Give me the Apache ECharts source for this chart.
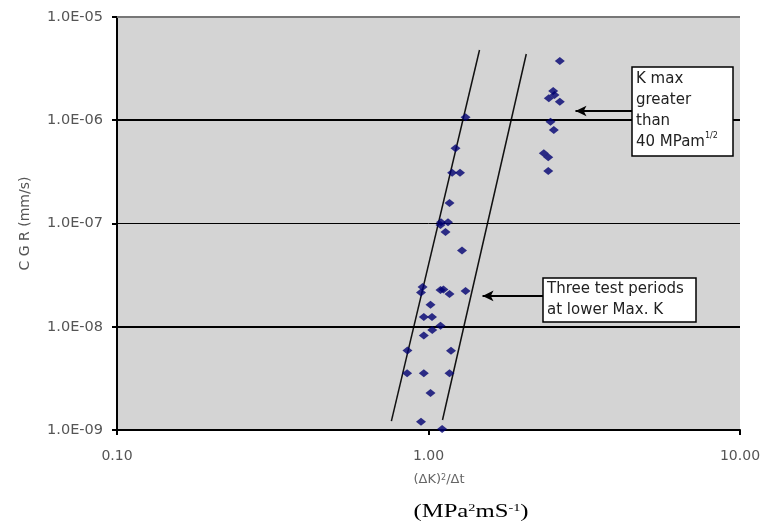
<!DOCTYPE html>
<html>
<head>
<meta charset="utf-8">
<script src="https://cdn.jsdelivr.net/npm/echarts@6/dist/echarts.min.js"></script>
<style>
html,body{margin:0;padding:0;background:#fff;}
#c{width:770px;height:524px;}
</style>
</head>
<body>
<div id="c"></div>
<script>
// ---- data ----
// points in the main band (lower K max)
const bandX = [1.315, 1.221, 1.191, 1.262, 1.168, 1.097, 1.155, 1.093, 1.134, 1.281,
               0.957, 0.946, 1.093, 1.117, 1.168, 1.315, 1.015, 0.966, 1.026, 1.093,
               1.028, 0.966, 0.856, 1.181, 0.854, 0.966, 1.168, 1.015, 0.946, 1.106];
const bandY = [1.07e-6, 5.35e-7, 3.10e-7, 3.10e-7, 1.58e-7, 1.03e-7, 1.03e-7, 9.67e-8, 8.27e-8, 5.48e-8,
               2.43e-8, 2.15e-8, 2.27e-8, 2.29e-8, 2.08e-8, 2.22e-8, 1.63e-8, 1.24e-8, 1.24e-8, 1.02e-8,
               9.30e-9, 8.23e-9, 5.89e-9, 5.87e-9, 3.54e-9, 3.54e-9, 3.54e-9, 2.28e-9, 1.20e-9, 1.02e-9];
// points with K max greater than 40 MPam^1/2
const highX = [2.640, 2.513, 2.433, 2.538, 2.640, 2.464, 2.525, 2.345, 2.423, 2.423];
const highY = [3.75e-6, 1.92e-6, 1.63e-6, 1.76e-6, 1.51e-6, 9.68e-7, 8.04e-7, 4.79e-7, 4.38e-7, 3.22e-7];
// bounding trend lines
const trendLeft = [[0.760, 1.22e-9], [1.458, 4.79e-6]];
const trendRight = [[1.109, 1.25e-9], [2.06, 4.38e-6]];
// arrows [from, to]
const arrowKmax = [[4.517, 1.229e-6], [2.964, 1.229e-6]];
const arrowLow = [[2.340, 1.99e-8], [1.491, 1.99e-8]];
// horizontal gridlines
const gridThick = [1e-6, 1e-8];
const gridThin = [1e-7];
const gridTop = [1e-5];
// axis ranges
const xRange = [0.1, 10];
const yRange = [1e-9, 1e-5];

const pairs = (xs, ys) => xs.map((x, i) => [x, ys[i]]);

const chart = echarts.init(document.getElementById('c'), null, {renderer: 'canvas'});

const FONT = 'DejaVu Sans';

function yFmt(v) {
  const e = Math.round(Math.log10(v));
  return '1.0E' + (e < 0 ? '-' : '+') + String(Math.abs(e)).padStart(2, '0');
}

const hLine = (v, color, width) => [
  {coord: [xRange[0], v], lineStyle: {color: color, width: width, type: 'solid'}},
  {coord: [xRange[1], v]}
];

const gridLines = []
  .concat(gridThick.map(v => hLine(v, '#000', 2.2)))
  .concat(gridThin.map(v => hLine(v, '#000', 1)))
  .concat(gridTop.map(v => hLine(v, '#777', 2)));

const option = {
  backgroundColor: '#ffffff',
  animation: false,
  grid: {
    left: 117, right: 30, top: 17, bottom: 94,
    show: true, backgroundColor: '#d4d4d4', borderWidth: 0
  },
  xAxis: {
    type: 'log', logBase: 10, min: xRange[0], max: xRange[1],
    axisLine: {show: true, onZero: false, lineStyle: {color: '#000', width: 2}},
    axisTick: {show: true, length: 5, lineStyle: {color: '#000', width: 2}},
    splitLine: {show: false},
    axisLabel: {
      formatter: v => Number(v).toFixed(2),
      color: '#555', fontFamily: FONT, fontSize: 14, margin: 19,
      showMinLabel: true, showMaxLabel: true
    }
  },
  yAxis: {
    type: 'log', logBase: 10, min: yRange[0], max: yRange[1],
    name: 'C G R (mm/s)', nameLocation: 'middle', nameGap: 85, nameRotate: 90,
    nameTextStyle: {color: '#555', fontFamily: FONT, fontSize: 14},
    axisLine: {show: true, lineStyle: {color: '#000', width: 2}},
    axisTick: {show: true, length: 5, lineStyle: {color: '#000', width: 2}},
    splitLine: {show: false},
    axisLabel: {formatter: yFmt, color: '#555', fontFamily: FONT, fontSize: 14.5, margin: 14}
  },
  series: [
    {
      type: 'line', data: trendLeft, symbol: 'none', z: 3,
      lineStyle: {color: '#111', width: 1.5},
      markLine: {
        silent: true, symbol: ['none', 'none'], label: {show: false},
        data: gridLines
      }
    },
    {
      type: 'line', data: trendRight, symbol: 'none', z: 3,
      lineStyle: {color: '#111', width: 1.5}
    },
    {
      type: 'scatter', data: pairs(bandX, bandY), symbol: 'diamond', symbolSize: [10, 8], z: 5,
      itemStyle: {color: '#000070'}
    },
    {
      type: 'scatter', data: pairs(highX, highY), symbol: 'diamond', symbolSize: [10, 8], z: 5,
      itemStyle: {color: '#000070'},
      markLine: {
        silent: true, symbol: ['none', 'arrow'], symbolSize: [8, 11], label: {show: false},
        lineStyle: {color: '#000', width: 2, type: 'solid'},
        data: [
          [{coord: arrowKmax[0]}, {coord: arrowKmax[1]}],
          [{coord: arrowLow[0]}, {coord: arrowLow[1]}]
        ]
      }
    }
  ],
  graphic: [
    {type: 'rect', z: 100, shape: {x: 632, y: 67, width: 101, height: 89},
     style: {fill: '#fff', stroke: '#000', lineWidth: 1.5}},
    {type: 'text', z: 101, x: 636, y: 69,
     style: {
       text: 'K max\ngreater\nthan\n40 MPam{s|1/2}',
       font: '15px "DejaVu Sans"', fill: '#222', lineHeight: 21,
       rich: {s: {fontSize: 8, fontFamily: FONT, fill: '#222', verticalAlign: 'top', lineHeight: 14}}
     }},
    {type: 'rect', z: 100, shape: {x: 543, y: 278, width: 153, height: 44},
     style: {fill: '#fff', stroke: '#000', lineWidth: 1.5}},
    {type: 'text', z: 101, x: 547, y: 279,
     style: {text: 'Three test periods\nat lower Max. K', font: '15px "DejaVu Sans"', fill: '#222', lineHeight: 21}},
    {type: 'text', z: 101, x: 439, y: 480,
     style: {
       text: '(ΔK){s|2}/Δt', font: '13px "DejaVu Sans"', fill: '#666',
       align: 'center', verticalAlign: 'middle',
       rich: {s: {fontSize: 8, fontFamily: FONT, fill: '#666', verticalAlign: 'top'}}
     }},
    {type: 'text', z: 101, x: 471, y: 512, scaleX: 1.3,
     style: {
       text: '(MPa{s|2}mS{s|-1})', font: '19px "Liberation Serif"', fill: '#000',
       align: 'center', verticalAlign: 'middle',
       rich: {s: {fontSize: 11, fontFamily: 'Liberation Serif', fill: '#000', verticalAlign: 'top'}}
     }}
  ]
};

chart.setOption(option);
</script>
</body>
</html>
